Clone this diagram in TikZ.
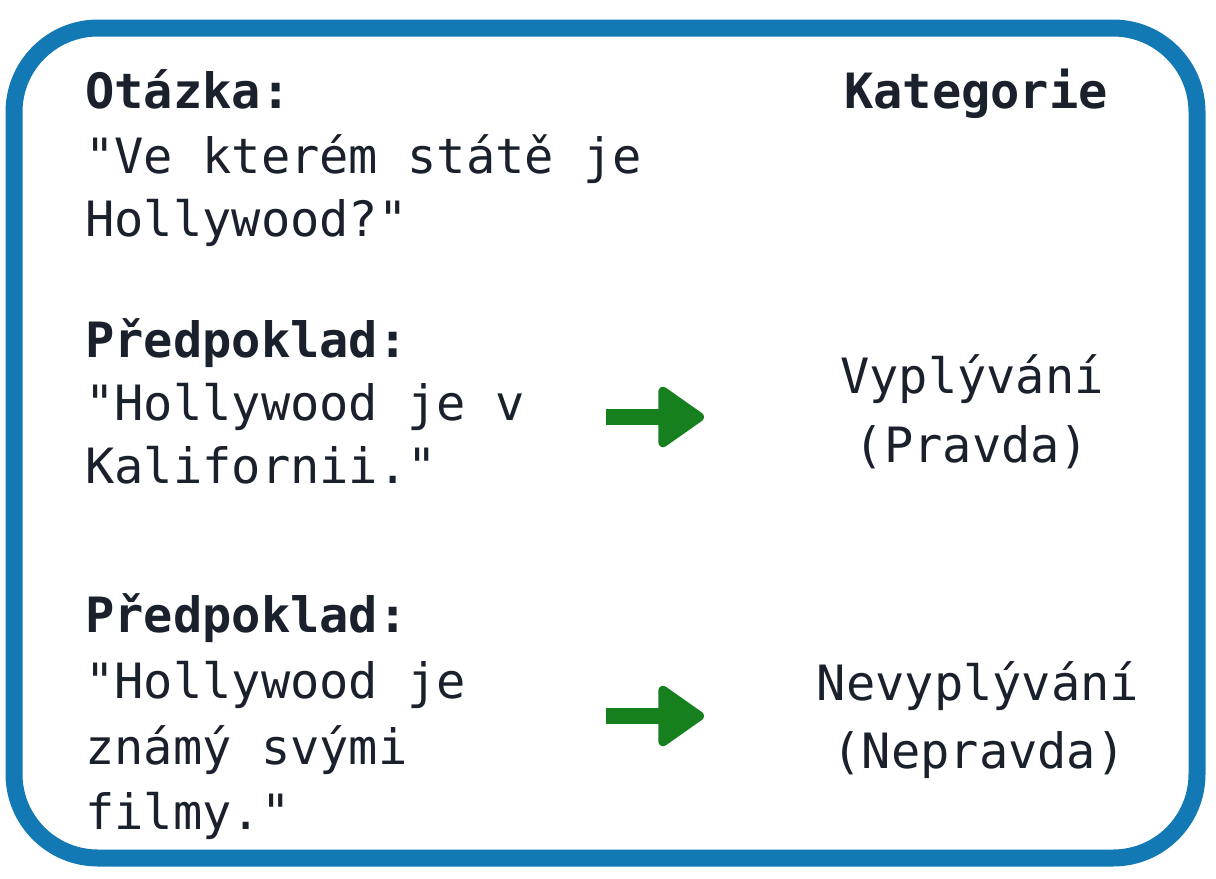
\documentclass[tikz,border=0pt]{standalone}
\usepackage{fontspec}
\usetikzlibrary{arrows.meta}
\newfontfamily\monofont{DejaVu Sans Mono}
\definecolor{frameblue}{RGB}{19,121,181}
\definecolor{arrowgreen}{RGB}{22,128,30}
\definecolor{textdark}{RGB}{26,32,44}
\begin{document}
\begin{tikzpicture}[x=0.75pt,y=-0.75pt,
  txt/.style={inner sep=0pt,anchor=base west,text=textdark,font=\monofont\fontsize{36.5pt}{44pt}\selectfont},
  hdr/.style={txt,font=\monofont\bfseries\fontsize{36.5pt}{44pt}\selectfont},
  cat/.style={txt,anchor=base},
  catb/.style={hdr,anchor=base},
  greenarrow/.style={draw=arrowgreen,line width=12pt,
    -{Triangle[length=37pt,width=50pt,round,line width=7pt,fill=arrowgreen,color=arrowgreen]}}]
\useasboundingbox (0,0) rectangle (1216,878);
\fill[white] (0,0) rectangle (1216,878);
\draw[frameblue,line width=12.75pt,rounded corners=63pt] (14,28) rectangle (1197,858);

% left column
\node[hdr] (qh) at (85,108) {Otázka:};
\node[txt] (q1) at (85,173) {"Ve kterém státě je};
\node[txt] (q2) at (85,236) {Hollywood?"};

\node[hdr] (ph1) at (85,357) {Předpoklad:};
\node[txt] (p11) at (85,420) {"Hollywood je v};
\node[txt] (p12) at (85,483) {Kalifornii."};

\node[hdr] (ph2) at (85,632) {Předpoklad:};
\node[txt] (p21) at (85,698) {"Hollywood je};
\node[txt] (p22) at (85,764) {známý svými};
\node[txt] (p23) at (85,829) {filmy."};

% right column
\node[catb] (kh) at (976,108) {Kategorie};
\node[cat] (c11) at (972,393) {Vyplývání};
\node[cat] (c12) at (972,462) {(Pravda)};
\node[cat] (c21) at (978,700) {Nevyplývání};
\node[cat] (c22) at (979,768) {(Nepravda)};

% arrows
\coordinate (a1s) at (606,417);
\coordinate (a1e) at (704,417);
\coordinate (a2s) at (606,716);
\coordinate (a2e) at (704,716);
\draw[greenarrow] (a1s) -- (a1e);
\draw[greenarrow] (a2s) -- (a2e);
\end{tikzpicture}
\end{document}
